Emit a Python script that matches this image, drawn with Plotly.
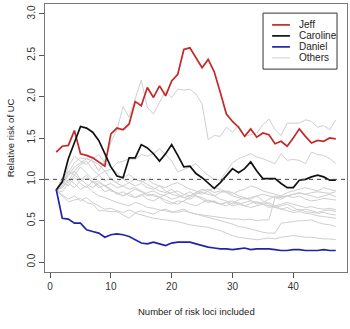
import plotly.graph_objects as go

# Number of risk loci included (1..47)
loci = list(range(1, 48))

jeff = [1.33, 1.40, 1.41, 1.59, 1.31, 1.29, 1.26, 1.21, 1.16, 1.55, 1.62, 1.60, 1.67, 1.94, 1.89, 2.11,
        1.99, 2.13, 2.01, 2.19, 2.27, 2.57, 2.59, 2.47, 2.35, 2.45, 2.30, 2.05, 1.79, 1.70, 1.63, 1.52,
        1.61, 1.51, 1.56, 1.54, 1.43, 1.46, 1.40, 1.50, 1.61, 1.52, 1.44, 1.47, 1.46, 1.50, 1.49]

caroline = [0.87, 0.97, 1.25, 1.45, 1.64, 1.62, 1.57, 1.47, 1.30, 1.15, 1.04, 1.02, 1.26, 1.26, 1.42, 1.38,
            1.31, 1.22, 1.31, 1.42, 1.29, 1.15, 1.16, 1.07, 1.02, 0.96, 0.89, 0.96, 1.04, 1.13, 1.08, 1.13,
            1.21, 1.10, 1.01, 1.01, 1.01, 0.95, 0.90, 0.90, 0.99, 1.00, 1.03, 1.05, 1.03, 0.99, 0.99]

daniel = [0.88, 0.53, 0.52, 0.47, 0.47, 0.39, 0.37, 0.35, 0.30, 0.33, 0.34, 0.33, 0.31, 0.27, 0.23, 0.22,
          0.24, 0.22, 0.20, 0.23, 0.24, 0.24, 0.24, 0.22, 0.20, 0.18, 0.17, 0.16, 0.16, 0.15, 0.16, 0.17,
          0.15, 0.16, 0.16, 0.16, 0.15, 0.14, 0.14, 0.15, 0.15, 0.14, 0.14, 0.14, 0.15, 0.14, 0.14]

others = [
    [0.87, 0.95, 1.05, 1.15, 1.20, 1.25, 1.22, 1.10, 1.22, 1.45, 1.60, 1.88, 1.75, 1.98, 2.20, 1.87,
     1.79, 1.93, 2.07, 1.99, 2.09, 2.08, 2.09, 2.03, 1.91, 1.48, 1.53, 1.52, 1.63, 1.57, 1.65, 1.52,
     1.54, 1.56, 1.66, 1.73, 1.60, 1.53, 1.68, 1.68, 1.68, 1.72, 1.70, 1.63, 1.65, 1.60, 1.72],
    [0.87, 0.95, 1.08, 1.20, 1.26, 1.25, 1.22, 1.18, 1.10, 1.12, 1.20, 1.22, 1.25, 1.24, 1.30, 1.28,
     1.31, 1.37, 1.30, 1.22, 1.09, 1.12, 1.15, 1.19, 1.11, 1.05, 1.00, 0.99, 1.10, 1.20, 1.25, 1.28,
     1.31, 1.27, 1.25, 1.22, 1.19, 1.31, 1.23, 1.24, 1.23, 1.19, 1.33, 1.30, 1.29, 1.25, 1.19],
    [0.87, 0.90, 1.00, 0.95, 0.88, 0.92, 0.85, 0.80, 0.78, 0.75, 0.72, 0.70, 0.68, 0.72, 0.70, 0.66,
     0.65, 0.63, 0.62, 0.60, 0.62, 0.64, 0.60, 0.58, 0.57, 0.56, 0.55, 0.54, 0.53, 0.52, 0.52, 0.51,
     0.52, 0.50, 0.51, 0.51, 0.78, 0.79, 0.80, 0.82, 0.83, 0.82, 0.84, 0.85, 0.84, 0.83, 0.85],
    [0.87, 0.98, 0.92, 1.02, 0.95, 0.90, 0.98, 0.93, 0.85, 0.88, 0.82, 0.85, 0.80, 0.78, 0.82, 0.76,
     0.74, 0.78, 0.72, 0.70, 0.74, 0.73, 0.70, 0.68, 0.72, 0.75, 0.73, 0.70, 0.68, 0.72, 0.75, 0.78,
     0.74, 0.70, 0.72, 0.76, 0.80, 0.78, 0.80, 0.82, 0.84, 0.82, 0.80, 0.78, 0.80, 0.82, 0.79],
    [0.87, 1.02, 0.96, 1.05, 1.00, 0.94, 0.90, 0.96, 0.92, 0.86, 0.84, 0.80, 0.83, 0.78, 0.80, 0.84,
     0.86, 0.82, 0.80, 0.76, 0.78, 0.82, 0.85, 0.80, 0.76, 0.72, 0.74, 0.70, 0.72, 0.74, 0.70, 0.68,
     0.71, 0.73, 0.70, 0.66, 0.68, 0.70, 0.72, 0.70, 0.68, 0.66, 0.67, 0.65, 0.64, 0.65, 0.63],
    [0.87, 0.92, 1.05, 1.10, 1.00, 1.05, 0.96, 0.98, 0.92, 0.95, 0.90, 0.92, 0.88, 0.90, 0.86, 0.82,
     0.80, 0.78, 0.82, 0.84, 0.86, 0.82, 0.80, 0.84, 0.88, 0.85, 0.80, 0.76, 0.74, 0.70, 0.72, 0.68,
     0.66, 0.68, 0.70, 0.72, 0.68, 0.64, 0.66, 0.62, 0.64, 0.61, 0.60, 0.59, 0.60, 0.58, 0.57],
    [0.87, 0.85, 0.95, 0.90, 0.98, 1.02, 0.97, 0.90, 0.93, 0.88, 0.83, 0.80, 0.84, 0.88, 0.85, 0.80,
     0.82, 0.78, 0.75, 0.72, 0.70, 0.74, 0.78, 0.82, 0.86, 0.88, 0.84, 0.86, 0.84, 0.80, 0.78, 0.76,
     0.78, 0.80, 0.74, 0.70, 0.66, 0.64, 0.62, 0.60, 0.61, 0.59, 0.58, 0.56, 0.55, 0.54, 0.53],
    [0.87, 0.82, 0.76, 0.80, 0.74, 0.78, 0.72, 0.68, 0.64, 0.65, 0.62, 0.60, 0.63, 0.60, 0.62, 0.60,
     0.58, 0.62, 0.64, 0.61, 0.60, 0.62, 0.60, 0.58, 0.56, 0.54, 0.52, 0.50, 0.48, 0.46, 0.43, 0.42,
     0.40, 0.38, 0.36, 0.35, 0.35, 0.47, 0.48, 0.49, 0.50, 0.50, 0.51, 0.48, 0.46, 0.45, 0.43],
    [0.87, 0.80, 0.73, 0.75, 0.77, 0.72, 0.70, 0.62, 0.62, 0.61, 0.61, 0.57, 0.53, 0.59, 0.57, 0.55,
     0.53, 0.52, 0.51, 0.50, 0.49, 0.47, 0.45, 0.44, 0.43, 0.42, 0.40, 0.38, 0.35, 0.32, 0.30, 0.29,
     0.28, 0.27, 0.28, 0.29, 0.28, 0.30, 0.31, 0.32, 0.31, 0.30, 0.30, 0.29, 0.28, 0.28, 0.27],
    [0.87, 1.00, 1.10, 1.05, 1.15, 1.08, 1.00, 1.05, 0.98, 1.02, 0.95, 0.92, 0.96, 1.00, 0.98, 0.94,
     0.90, 0.86, 0.84, 0.88, 0.82, 0.78, 0.80, 0.84, 0.82, 0.86, 0.90, 0.88, 0.85, 0.82, 0.86, 0.88,
     0.92, 0.90, 0.86, 0.84, 0.82, 0.80, 0.84, 0.86, 0.88, 0.90, 0.88, 0.86, 0.90, 0.88, 0.86],
    [0.87, 0.95, 1.15, 1.28, 1.22, 1.18, 1.25, 1.30, 1.20, 1.15, 1.08, 1.00, 0.96, 0.92, 0.95, 0.90,
     0.88, 0.92, 0.86, 0.82, 0.80, 0.78, 0.76, 0.80, 0.78, 0.74, 0.72, 0.70, 0.72, 0.68, 0.70, 0.72,
     0.74, 0.72, 0.70, 0.68, 0.66, 0.68, 0.70, 0.66, 0.62, 0.64, 0.62, 0.60, 0.62, 0.63, 0.61],
    [0.87, 0.90, 0.98, 1.10, 1.18, 1.22, 1.12, 1.05, 1.10, 1.00, 0.96, 1.02, 1.06, 1.00, 0.97, 1.00,
     0.95, 0.92, 0.90, 0.94, 0.96, 0.92, 0.88, 0.86, 0.84, 0.82, 0.80, 0.84, 0.86, 0.84, 0.80, 0.78,
     0.76, 0.80, 0.82, 0.80, 0.78, 0.76, 0.80, 0.78, 0.80, 0.76, 0.74, 0.75, 0.77, 0.76, 0.75],
]

x_ticks = [0, 10, 20, 30, 40]
y_ticks = [0.0, 0.5, 1.0, 1.5, 2.0, 2.5, 3.0]

legend_names = ["Jeff", "Caroline", "Daniel", "Others"]
legend_colors = ["#c62828", "#111111", "#2323a8", "#cfcfcf"]
legend_widths = [1.7, 1.7, 1.7, 1]

FONT = "Liberation Sans, Arial, Helvetica, sans-serif"
GREY = "#cfcfcf"

fig = go.Figure()

for series in others:
    fig.add_trace(go.Scatter(x=loci, y=series, mode="lines",
                             line=dict(color=GREY, width=1), showlegend=False,
                             hoverinfo="skip"))

for name, series, color in [("Jeff", jeff, legend_colors[0]),
                            ("Caroline", caroline, legend_colors[1]),
                            ("Daniel", daniel, legend_colors[2])]:
    fig.add_trace(go.Scatter(x=loci, y=series, mode="lines", name=name,
                             line=dict(color=color, width=1.7), showlegend=False))

# reference line at relative risk 1
fig.add_shape(type="line", xref="paper", yref="y", x0=0, x1=1, y0=1, y1=1,
              line=dict(color="#444444", width=1, dash="4px,4px"), layer="above")

# legend box drawn in paper coordinates
lx0, lx1, ly0, ly1 = 0.722, 0.967, 0.757, 0.966
fig.add_shape(type="rect", xref="paper", yref="paper", x0=lx0, x1=lx1, y0=ly0, y1=ly1,
              line=dict(color="#333333", width=1), fillcolor="white", layer="above")
row_y = [0.922, 0.881, 0.840, 0.799]
for name, color, w, yy in zip(legend_names, legend_colors, legend_widths, row_y):
    fig.add_shape(type="line", xref="paper", yref="paper", x0=0.752, x1=0.811, y0=yy, y1=yy,
                  line=dict(color=color, width=w), layer="above")
    fig.add_annotation(xref="paper", yref="paper", x=0.833, y=yy, text=name, showarrow=False,
                       xanchor="left", yanchor="middle", font=dict(family=FONT, size=10, color="#222222"))

# axis titles
fig.add_annotation(xref="paper", yref="paper", x=0.5, y=-0.149, text="Number of risk loci included",
                   showarrow=False, xanchor="center", yanchor="middle",
                   font=dict(family=FONT, size=9.5, color="#222222"))
fig.add_annotation(xref="paper", yref="paper", x=-0.115, y=0.5, text="Relative risk of UC",
                   showarrow=False, textangle=-90, xanchor="center", yanchor="middle",
                   font=dict(family=FONT, size=9.5, color="#222222"))

axis_common = dict(showgrid=False, zeroline=False, showline=True, mirror=True,
                   linecolor="#777777", linewidth=1, ticks="outside", ticklen=5,
                   tickcolor="#555555", tickwidth=1,
                   tickfont=dict(family=FONT, size=10, color="#333333"))

fig.update_layout(
    width=350, height=329,
    margin=dict(l=45, r=3, t=4, b=57),
    paper_bgcolor="white", plot_bgcolor="white",
    font=dict(family=FONT),
    showlegend=False,
    xaxis=dict(range=[-0.84, 48.84], tickmode="array", tickvals=x_ticks,
               ticktext=[str(v) for v in x_ticks], **axis_common),
    yaxis=dict(range=[-0.12, 3.12], tickmode="array", tickvals=y_ticks,
               ticktext=[f"{v:.1f}" for v in y_ticks], tickangle=-90, **axis_common),
)

fig.write_html("out.html")
